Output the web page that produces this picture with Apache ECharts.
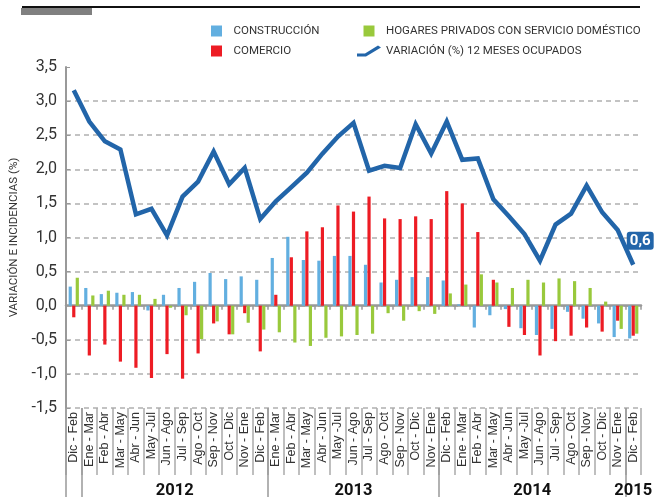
<!DOCTYPE html>
<html>
<head>
<meta charset="utf-8">
<script src="https://cdn.jsdelivr.net/npm/echarts@6/dist/echarts.min.js"></script>
<style>
  html, body { margin: 0; padding: 0; background: #fff; }
  #chart { width: 656px; height: 499px; }
</style>
</head>
<body>
<div id="chart"></div>
<script>
// periodos moviles (trimestres)
const categories = [
    'Dic - Feb', 'Ene - Mar', 'Feb - Abr', 'Mar - May', 'Abr - Jun', 'May -Jul', 'Jun - Ago',
    'Jul - Sep', 'Ago - Oct', 'Sep - Nov', 'Oct - Dic', 'Nov - Ene', 'Dic - Feb',
    'Ene - Mar', 'Feb - Abr', 'Mar - May', 'Abr - Jun', 'May -Jul', 'Jun - Ago',
    'Jul - Sep', 'Ago - Oct', 'Sep - Nov', 'Oct - Dic', 'Nov - Ene', 'Dic - Feb',
    'Ene - Mar', 'Feb - Abr', 'Mar - May', 'Abr - Jun', 'May -Jul', 'Jun - Ago',
    'Jul - Sep', 'Ago - Oct', 'Sep - Nov', 'Oct - Dic', 'Nov - Ene', 'Dic - Feb'
];
const years = ['2012', '2013', '2014', '2015'];
// index of the first period of each year group
const yearStarts = [1, 13, 24, 36];

const construccion = [
    0.28, 0.26, 0.17, 0.19, 0.20, -0.07, 0.16, 0.26, 0.35, 0.48, 0.39, 0.43, 0.38,
    0.70, 1.01, 0.67, 0.66, 0.73, 0.73, 0.60, 0.34, 0.38, 0.42, 0.42, 0.37,
    0.02, -0.32, -0.14, -0.05, -0.33, -0.43, -0.34, -0.09, -0.19, -0.26, -0.46, -0.48
];
const comercio = [
    -0.17, -0.73, -0.57, -0.82, -0.91, -1.06, -0.71, -1.07, -0.70, -0.26, -0.42, -0.11, -0.67,
    0.16, 0.71, 1.09, 1.15, 1.47, 1.38, 1.60, 1.28, 1.27, 1.31, 1.27, 1.68,
    1.50, 1.08, 0.38, -0.31, -0.43, -0.73, -0.52, -0.44, -0.32, -0.38, -0.22, -0.44
];
const hogares = [
    0.41, 0.15, 0.22, 0.16, 0.16, 0.10, -0.03, -0.14, -0.49, -0.23, -0.42, -0.25, -0.35,
    -0.39, -0.54, -0.59, -0.47, -0.45, -0.43, -0.41, -0.11, -0.22, -0.08, -0.12, 0.18,
    0.31, 0.46, 0.34, 0.26, 0.38, 0.34, 0.40, 0.36, 0.26, 0.06, -0.34, -0.41
];
const variacion = [
    3.16, 2.70, 2.41, 2.29, 1.34, 1.42, 1.03, 1.60, 1.82, 2.26, 1.78, 2.02, 1.27,
    1.53, 1.74, 1.95, 2.23, 2.48, 2.68, 1.98, 2.05, 2.02, 2.66, 2.23, 2.70,
    2.14, 2.16, 1.56, 1.31, 1.05, 0.66, 1.19, 1.35, 1.76, 1.37, 1.11, 0.6
];

const font = "Roboto, 'Liberation Sans', sans-serif";
const fmt = v => v.toFixed(1).replace('.', ',');

// year group boundaries and centers on a 0..N scale
const yearBounds = [0].concat(yearStarts);
const yearCenters = yearStarts.map((s, i) =>
    (s + (i < yearStarts.length - 1 ? yearStarts[i + 1] : categories.length)) / 2);

const squareIcon = 'path://M0,0 L10,0 L10,10 L0,10 Z';
const lineIcon = 'path://M0,9 L8,9 L21,1 L24,3 L9,12 L0,12 Z';

const chart = echarts.init(document.getElementById('chart'));

const option = {
    animation: false,
    backgroundColor: '#fff',
    graphic: [
        { type: 'rect', shape: { x: 22, y: 6, width: 618, height: 2 }, style: { fill: '#111' } },
        { type: 'rect', shape: { x: 21, y: 8, width: 71, height: 7 }, style: { fill: '#808080' } }
    ],
    legend: [{
        left: 206, top: 20, orient: 'vertical',
        itemWidth: 24, itemHeight: 11, itemGap: 8,
        textStyle: { fontFamily: font, fontSize: 11.5, color: '#333' },
        data: [
            { name: 'CONSTRUCCIÓN', icon: squareIcon },
            { name: 'COMERCIO', icon: squareIcon }
        ]
    }, {
        left: 352, top: 20, orient: 'vertical',
        itemWidth: 24, itemHeight: 11, itemGap: 8,
        textStyle: { fontFamily: font, fontSize: 11.5, color: '#333' },
        data: [
            { name: 'HOGARES PRIVADOS CON SERVICIO DOMÉSTICO', icon: squareIcon },
            { name: 'VARIACIÓN (%) 12 MESES OCUPADOS', icon: lineIcon }
        ]
    }],
    grid: { left: 64, right: 15, top: 67, bottom: 89 },
    xAxis: [{
        type: 'category',
        data: categories,
        position: 'bottom',
        axisLine: { onZero: true, lineStyle: { color: '#999', width: 2.5 } },
        axisTick: { show: true, interval: 0, length: 4, lineStyle: { color: '#999', width: 1.5 } },
        axisLabel: { show: false },
        splitLine: { show: false }
    }, {
        type: 'category',
        data: categories,
        position: 'bottom',
        axisLine: { show: false, onZero: false },
        axisTick: { show: true, interval: 0, length: 67, lineStyle: { color: '#aaa', width: 1.5 } },
        axisLabel: {
            interval: 0, rotate: 90, margin: 4,
            fontFamily: "'Liberation Sans', Arial, sans-serif", fontSize: 12.5, color: '#333'
        },
        splitLine: { show: false }
    }, {
        type: 'value',
        min: 0,
        max: categories.length,
        position: 'bottom',
        axisLine: { show: false, onZero: false },
        splitLine: { show: false },
        axisTick: {
            show: true, customValues: yearBounds, length: 89,
            lineStyle: { color: '#999', width: 1.5 }
        },
        axisLabel: {
            customValues: yearCenters,
            margin: 74,
            formatter: v => {
                const i = yearCenters.indexOf(v);
                return i >= 0 ? years[i] : '';
            },
            fontFamily: font, fontWeight: 'bold', fontSize: 16.5, color: '#111'
        }
    }],
    yAxis: {
        type: 'value',
        min: -1.5,
        max: 3.5,
        interval: 0.5,
        name: 'VARIACIÓN E INCIDENCIAS (%)',
        nameLocation: 'middle',
        nameGap: 46,
        nameTextStyle: { fontFamily: font, fontSize: 11.5, color: '#333' },
        axisLine: { show: true, lineStyle: { color: '#999', width: 2 } },
        axisTick: { show: true, inside: true, length: 4, lineStyle: { color: '#999' } },
        axisLabel: {
            margin: 9, formatter: v => fmt(v),
            fontFamily: font, fontSize: 16, color: '#333'
        },
        splitLine: {
            show: true, showMinLine: true, showMaxLine: false,
            lineStyle: { color: '#b0b0b0', type: [5, 4], width: 1.5 }
        }
    },
    series: [{
        name: 'CONSTRUCCIÓN',
        type: 'bar',
        data: construccion,
        barWidth: 3.2,
        barGap: '10%',
        itemStyle: { color: '#62afe0' }
    }, {
        name: 'COMERCIO',
        type: 'bar',
        data: comercio,
        barWidth: 3.2,
        barGap: '10%',
        itemStyle: { color: '#ed1c24' }
    }, {
        name: 'HOGARES PRIVADOS CON SERVICIO DOMÉSTICO',
        type: 'bar',
        data: hogares,
        barWidth: 3.2,
        barGap: '10%',
        itemStyle: { color: '#99c93c' }
    }, {
        name: 'VARIACIÓN (%) 12 MESES OCUPADOS',
        type: 'line',
        data: variacion,
        showSymbol: false,
        symbol: 'none',
        lineStyle: { color: '#2265a9', width: 4.5, join: 'miter' },
        itemStyle: { color: '#2265a9' },
        endLabel: {
            show: true,
            formatter: p => fmt(p.value),
            distance: 0,
            offset: [7, -24],
            align: 'center',
            verticalAlign: 'middle',
            backgroundColor: '#2265a9',
            borderRadius: 3,
            padding: [2, 3, 1, 3],
            color: '#fff',
            fontWeight: 'bold',
            fontSize: 15,
            fontFamily: font
        },
        z: 5
    }]
};

chart.setOption(option);
</script>
</body>
</html>
